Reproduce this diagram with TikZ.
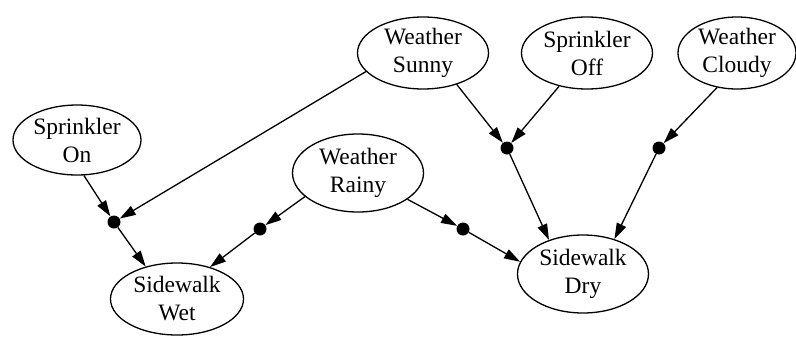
\documentclass[tikz,border=0pt]{standalone}
\usepackage{fontspec}
\setmainfont{Liberation Serif}
\usetikzlibrary{shapes.geometric,arrows.meta}
\begin{document}
\begin{tikzpicture}[x=1pt,y=-1pt,
  state/.style={draw,ellipse,line width=1.3pt,inner sep=0pt,
    minimum width=131pt,minimum height=72pt,align=center,
    font=\fontsize{23.5}{28}\selectfont},
  junction/.style={circle,fill=black,inner sep=0pt,minimum size=13pt},
  link/.style={line width=1.3pt,-{Triangle[length=16pt,width=10pt]}}]
\useasboundingbox (0,0) rectangle (796,338);
% variable states
\node[state] (sunny)  at (423,53)  {Weather\\Sunny};
\node[state] (off)    at (587,53)  {Sprinkler\\Off};
\node[state,minimum width=118pt] (cloudy) at (737,53) {Weather\\Cloudy};
\node[state,minimum width=128pt,minimum height=70pt] (on) at (77,140) {Sprinkler\\On};
\node[state,minimum height=78pt] (rainy)  at (358,173) {Weather\\Rainy};
\node[state,minimum width=133pt] (wet) at (177,299) {Sidewalk\\Wet};
\node[state,minimum height=78pt] (dry) at (583,274) {Sidewalk\\Dry};
% junction points
\node[junction] (j1) at (114,222) {};
\node[junction] (j2) at (260,229) {};
\node[junction] (j3) at (463,229) {};
\node[junction] (j4) at (507,148) {};
\node[junction] (j5) at (659,148) {};
% edges into junctions
\draw[link] (on.281) -- (j1);
\draw[link] (sunny.198) -- (j1);
\draw[link] (rainy.204) -- (j2);
\draw[link] (rainy.332) -- (j3);
\draw[link] (sunny.317) -- (j4);
\draw[link] (off.230) -- (j4);
\draw[link] (cloudy.240) -- (j5);
% edges out of junctions
\draw[link] (j1) -- (wet.134);
\draw[link] (j2) -- (wet.44);
\draw[link] (j3) -- (dry.169);
\draw[link] (j4) -- (dry.135);
\draw[link] (j5) -- (dry.48);
\end{tikzpicture}
\end{document}
